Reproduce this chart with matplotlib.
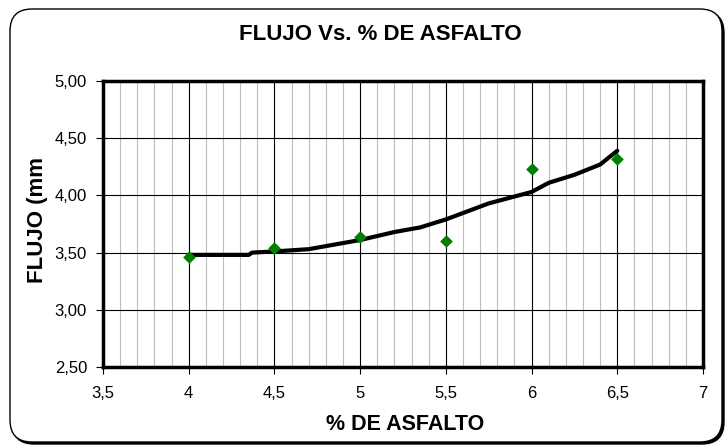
import matplotlib
matplotlib.use("Agg")
import matplotlib.pyplot as plt
from matplotlib.patches import FancyBboxPatch, Rectangle
from matplotlib.ticker import MultipleLocator, FuncFormatter

plt.rcParams['font.family'] = ['Liberation Sans', 'DejaVu Sans']

# Measured points
asfalto = [4.0, 4.5, 5.0, 5.5, 6.0, 6.5]
flujo = [3.46, 3.54, 3.64, 3.60, 4.23, 4.32]

# Fitted curve (read along the drawn trend)
curva_x = [4.0, 4.35, 4.37, 4.5, 4.7, 5.0, 5.2, 5.35, 5.5, 5.75, 6.0, 6.1, 6.25, 6.4, 6.5]
curva_y = [3.48, 3.48, 3.50, 3.51, 3.53, 3.61, 3.68, 3.72, 3.79, 3.93, 4.03, 4.11, 4.18, 4.27, 4.39]

titulo = "FLUJO Vs. % DE ASFALTO"
etiqueta_x = "% DE ASFALTO"
etiqueta_y = "FLUJO (mm)"

W, H = 726, 446
fig = plt.figure(figsize=(W / 100, H / 100), dpi=100)

# Background frame in pixel units
bg = fig.add_axes([0, 0, 1, 1], zorder=0)
bg.set_xlim(0, W)
bg.set_ylim(H, 0)
bg.axis('off')
shadow = FancyBboxPatch((12, 11), 712, 433, boxstyle="round,pad=0,rounding_size=22",
                        facecolor='black', edgecolor='black', lw=1)
frame = FancyBboxPatch((10, 9), 712, 433, boxstyle="round,pad=0,rounding_size=22",
                       facecolor='white', edgecolor='black', lw=1.0)
bg.add_patch(shadow)
bg.add_patch(frame)

ax = fig.add_axes([103 / W, 1 - 367 / H, 600 / W, 286 / H], zorder=1)
ax.set_xlim(3.5, 7.0)
ax.set_ylim(2.5, 5.0)

ax.xaxis.set_major_locator(MultipleLocator(0.5))
ax.xaxis.set_minor_locator(MultipleLocator(0.1))
ax.yaxis.set_major_locator(MultipleLocator(0.5))

ax.grid(which='minor', axis='x', color='#bdbdbd', lw=0.8, zorder=0)
ax.grid(which='major', axis='both', color='black', lw=0.8, zorder=0.5)

ax.xaxis.set_major_formatter(FuncFormatter(lambda v, p: (f"{v:g}").replace('.', ',')))
ax.yaxis.set_major_formatter(FuncFormatter(lambda v, p: f"{v:.2f}".replace('.', ',')))

ax.tick_params(axis='both', which='major', direction='out', length=5, width=0.8,
               labelsize=12, color='black')
ax.tick_params(axis='x', which='major', pad=9)
ax.tick_params(axis='y', which='major', pad=6.5)
ax.tick_params(which='minor', length=0)

for s in ax.spines.values():
    s.set_linewidth(2.5)
    s.set_color('black')

ax.plot(curva_x, curva_y, color='black', lw=3.0, solid_capstyle='round', zorder=3)
ax.scatter(asfalto, flujo, marker='D', s=42, color='#008000', zorder=4, linewidths=0)

fig.text(380 / W, 1 - 40 / H, titulo, ha='center', va='baseline',
         fontsize=16, fontweight='bold')
fig.text(405 / W, 1 - 430.5 / H, etiqueta_x, ha='center', va='baseline',
         fontsize=15.5, fontweight='bold')
yl = fig.text(43 / W, 1 - 283 / H, etiqueta_y, ha='left', va='baseline',
              rotation=90, rotation_mode='anchor', fontsize=16, fontweight='bold')
yl.set_clip_path(Rectangle((0, 0), W, H - 158, transform=None))

fig.savefig("out.png", dpi=100)
